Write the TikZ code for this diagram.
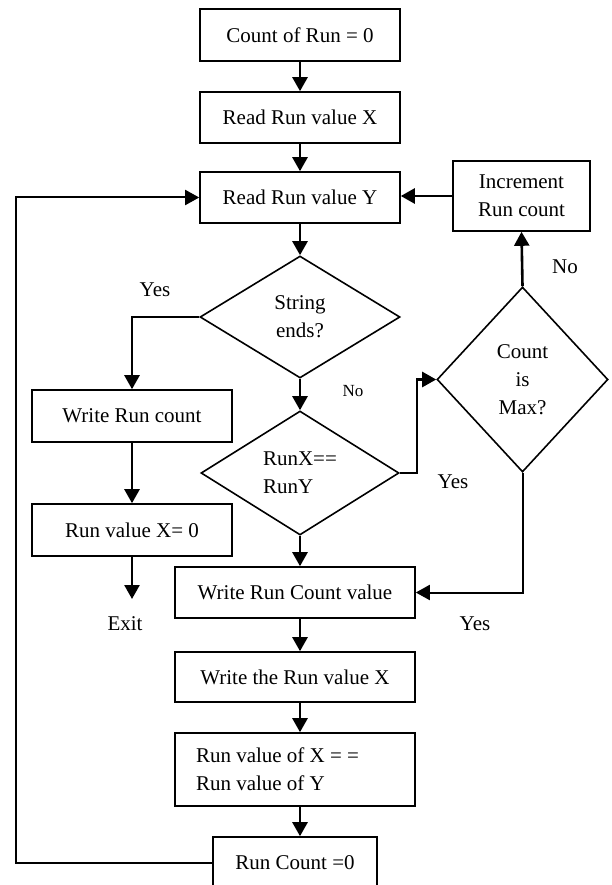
\documentclass[tikz,border=0pt]{standalone}
\usepackage{fontspec}
\setmainfont{Liberation Serif}
\usetikzlibrary{arrows.meta,shapes.geometric}

\begin{document}
\begin{tikzpicture}[x=1pt,y=-1pt]
    \tikzset{every node/.style={font=\fontsize{21}{28}\selectfont}}
    \tikzset{block/.style={draw,rectangle,line width=1.6pt,inner sep=0pt,align=center}}
    \tikzset{decision/.style={draw,diamond,line width=1.6pt,inner sep=0pt,align=center}}
    \tikzset{line/.style={line width=2.6pt,-{Triangle[length=14pt,width=15pt]}}}
    \tikzset{thinline/.style={line width=2pt,-{Triangle[length=14pt,width=15pt]}}}
    \clip (0,0) rectangle (612,885);
    \useasboundingbox (0,0) rectangle (612,885);
    \node[block,minimum width=200pt,minimum height=52pt] (count0) at (300,35) {Count of Run = 0};
    \node[block,minimum width=200pt,minimum height=51pt] (readx) at (300,117.5) {Read Run value X};
    \node[block,minimum width=200pt,minimum height=51pt] (ready) at (300,197.5) {Read Run value Y};
    \node[block,minimum width=137pt,minimum height=70pt] (incr) at (521.5,196) {Increment\\Run count};
    \node[decision,minimum width=200pt,minimum height=122pt] (strend) at (300,317) {String\\ends?};
    \node[decision,minimum width=198pt,minimum height=124pt,align=left] (runeq) at (300,473) {RunX==\\RunY};
    \node[decision,minimum width=171pt,minimum height=185pt] (maxq) at (522.5,379.5) {Count\\is\\Max?};
    \node[block,minimum width=200pt,minimum height=52pt] (wrrun) at (132,416) {Write Run count};
    \node[block,minimum width=200pt,minimum height=52pt] (runx0) at (132,530) {Run value X= 0};
    \node[block,minimum width=240pt,minimum height=51pt] (wrcount) at (295,592.5) {Write Run Count value};
    \node[block,minimum width=240pt,minimum height=50pt] (wrx) at (295,677) {Write the Run value X};
    \node[block,minimum height=73pt,text width=198pt,inner xsep=21pt,align=flush left] (xeqy) at (295,769.5) {Run value of X = =\\Run value of Y};
    \node[block,minimum width=164pt,minimum height=52pt] (zero) at (295,863) {Run Count =0};
    \coordinate (exit) at (132,599);
    \node (yes1) at (155,290) {Yes};
    \node[font=\fontsize{17}{20}\selectfont] (no1) at (353,391) {No};
    \node (no2) at (565,267) {No};
    \node (yes2) at (453,482) {Yes};
    \node (yes3) at (475,624) {Yes};
    \node (exitlbl) at (125,624) {Exit};
    \draw[line] (count0) -- (readx);
    \draw[line] (readx) -- (ready);
    \draw[line] (ready) -- (strend);
    \draw[line] (strend) -- (runeq);
    \draw[line] (runeq.south) -- (runeq.south |- wrcount.north);
    \draw[line] (wrcount.south -| runeq.south) -- (wrx.north -| runeq.south);
    \draw[line] (wrx.south -| runeq.south) -- (xeqy.north -| runeq.south);
    \draw[line] (xeqy.south -| runeq.south) -- (zero.north -| runeq.south);
    \draw[line] (strend.west) -| (wrrun.north);
    \draw[line] (wrrun) -- (runx0);
    \draw[line] (runx0) -- (exit);
    \draw[line] (runeq.east) -- ++(17,0) |- (maxq.west);
    \draw[line] (maxq.north) -- (incr.south);
    \draw[line] (incr.west) -- (incr.west -| ready.east);
    \draw[thinline] (maxq.south) |- (wrcount.east);
    \draw[thinline] (zero.west) -- ++(-196,0) |- (ready.west);
\end{tikzpicture}
\end{document}
